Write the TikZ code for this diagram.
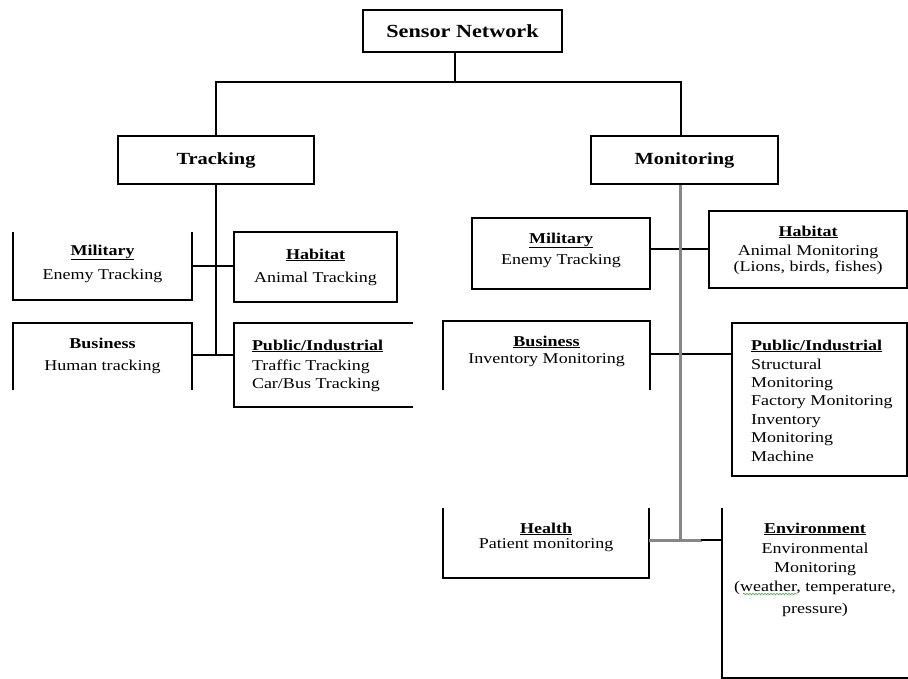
\documentclass[tikz,border=0pt]{standalone}
\usepackage{fontspec}
\setmainfont{Liberation Serif}[FakeStretch=1.2]
\usetikzlibrary{decorations.pathmorphing}

\definecolor{trunkgray}{RGB}{135,135,135}
\definecolor{spellgreen}{RGB}{70,170,70}

% fixed-size cell whose text hangs from the top edge:
% #1 width, #2 height, #3 gap above first line, #4 contents
\newcommand\cellbody[4]{\parbox[c][#2][t]{#1}{\vspace*{#3}#4}}
\newcommand\headline[1]{\strut\textbf{\underline{#1}}}

\begin{document}
\begin{tikzpicture}[x=1bp,y=-1bp,
  font=\fontsize{15bp}{19bp}\selectfont,
  cell/.style={inner sep=0pt,outer sep=0pt},
  framed/.style={cell,draw,line width=1.5bp},
  titlebox/.style={draw,line width=1.5bp,inner sep=0pt,font=\fontsize{17bp}{20bp}\selectfont\bfseries},
  conn/.style={line width=1.5bp,line cap=rect},
  trunk/.style={line width=3bp,draw=trunkgray},
  spell/.style={draw=spellgreen,line width=0.6bp,decorate,
    decoration={snake,amplitude=0.8bp,segment length=3bp}}]

\fill[white] (0,0) rectangle (908,679);
\useasboundingbox (0,0) rectangle (908,679);

% ---- top levels
\node[titlebox,minimum width=199bp,minimum height=42bp,
  font=\fontsize{18.5bp}{20bp}\selectfont\bfseries] (sn) at (462.5,31) {Sensor Network};
\node[titlebox,minimum width=196bp,minimum height=48bp] (trk) at (216,160) {Tracking};
\node[titlebox,minimum width=187bp,minimum height=48bp] (mon) at (684.5,160) {Monitoring};

\coordinate (hub) at (455,82);
\coordinate (mdrop) at (681,82);
\coordinate (tbase) at (216,355);
\coordinate (mbase) at (680,540);
\coordinate (bizrow) at (680,354);

% ---- tracking branch
\node[cell] (tMil) at (102.5,266) {\cellbody{179bp}{68bp}{9.7bp}{\centering
  \headline{Military}\\[5bp] Enemy Tracking}};
\node[framed] (tHab) at (315.5,267) {\cellbody{163bp}{70bp}{13.7bp}{\centering
  \headline{Habitat}\\[4bp] Animal Tracking}};
\node[cell] (tBus) at (102.5,356.5) {\cellbody{179bp}{67bp}{11.7bp}{\centering
  \strut\textbf{Business}\\[3bp] Human tracking}};
\node[cell] (tPub) at (323.5,365) {\cellbody{179bp}{84bp}{13.7bp}{\raggedright\leftskip=18bp
  \headline{Public/Industrial}\\[1bp] Traffic Tracking\\[-1bp] Car/Bus Tracking}};

% ---- monitoring branch
\node[framed] (mMil) at (561,253.5) {\cellbody{178bp}{71bp}{11.7bp}{\centering
  \headline{Military}\\[2bp] Enemy Tracking}};
\node[framed] (mHab) at (808,249.5) {\cellbody{198bp}{77bp}{11.7bp}{\centering
  \headline{Habitat}\\ Animal Monitoring\\[-3bp] (Lions, birds, fishes)}};
\node[cell] (mBus) at (546.5,355.5) {\cellbody{207bp}{69bp}{11.7bp}{\centering
  \headline{Business}\\[-2bp] Inventory Monitoring}};
\node[framed] (mPub) at (819.5,399.5) {\cellbody{175bp}{153bp}{13.7bp}{\raggedright\leftskip=19bp
  \headline{Public/Industrial}\\ Structural\\[-1bp] Monitoring\\[-1bp] Factory Monitoring\\
  Inventory\\[-1bp] Monitoring\\ Machine}};
\node[cell] (mHea) at (546,543) {\cellbody{206bp}{70bp}{11.7bp}{\centering
  \headline{Health}\\[-4bp] Patient monitoring}};
\node[cell] (mEnv) at (815,593) {\cellbody{186bp}{170bp}{11.7bp}{\centering
  \headline{Environment}\\[1bp] Environmental\\ Monitoring\\ (weather, temperature,\\[3bp] pressure)}};

% ---- open-sided frames
\draw[conn,line cap=butt] (tMil.north west) -- (tMil.south west) -- (tMil.south east) -- (tMil.north east);
\draw[conn,line cap=butt] (tBus.south west) -- (tBus.north west) -- (tBus.north east) -- (tBus.south east);
\draw[conn,line cap=butt] (tPub.north east) -- (tPub.north west) -- (tPub.south west) -- (tPub.south east);
\draw[conn,line cap=butt] (mBus.south west) -- (mBus.north west) -- (mBus.north east) -- (mBus.south east);
\draw[conn,line cap=butt] (mHea.north west) -- (mHea.south west) -- (mHea.south east) -- (mHea.north east);
\draw[conn,line cap=butt] (mEnv.north west) -- (mEnv.south west) -- (mEnv.south east);

% ---- upper connectors
\draw[conn] (sn.south -| hub) -- (hub);
\draw[conn] (trk.north) |- (hub) -- (mdrop) -- (mdrop |- mon.north);

% ---- tracking connectors
\draw[conn] (trk.south) -- (tbase);
\draw[conn] (tMil.east) -- (tMil.east -| tHab.west);
\draw[conn] (tbase -| tBus.east) -- (tbase -| tPub.west);

% ---- monitoring connectors
\draw[conn] ([yshift=4.5bp]mMil.east) -- ([yshift=4.5bp]mMil.east -| mHab.west);
\draw[line width=2bp] (bizrow -| mBus.east) -- (bizrow -| mPub.west);
\draw[trunk] ([yshift=3bp]mHea.east) -- ([yshift=3bp,xshift=53bp]mHea.east);
\draw[conn] ([yshift=3bp,xshift=53bp]mHea.east) -- ([yshift=3bp]mHea.east -| mEnv.west);
\draw[trunk] (mbase |- mon.south) -- (mbase);

% spell-check mark under "weather"
\draw[spell] (743,594) -- (797,594);

\end{tikzpicture}
\end{document}
